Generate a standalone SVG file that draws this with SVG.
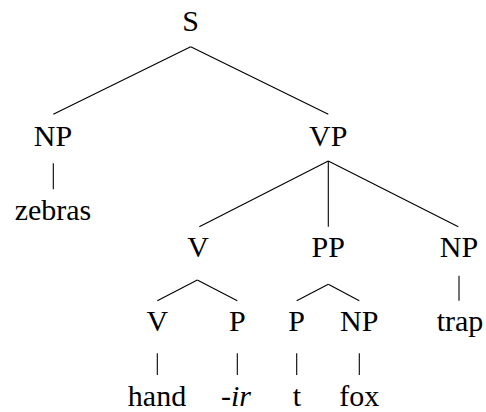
<svg xmlns="http://www.w3.org/2000/svg" width="486" height="412" viewBox="0 0 486 412">
<style>
.e line{stroke:#000;stroke-width:1.1}
.t{font-family:"Liberation Serif","Times New Roman",Tinos,"Nimbus Roman","Nimbus Roman No9 L",FreeSerif,"Noto Serif","DejaVu Serif",Times,serif;font-size:30px;fill:#000;text-anchor:middle}
</style>
<rect width="486" height="412" fill="#fff"/>
<g class="e" id="connectors">
<line x1="190.7" y1="46.7" x2="53.3" y2="114.3"/>
<line x1="190.7" y1="46.7" x2="328.3" y2="114.3"/>
<line x1="53.3" y1="163.3" x2="53.3" y2="189.3"/>
<line x1="328.3" y1="161" x2="199.3" y2="226.7"/>
<line x1="328.3" y1="161" x2="328.3" y2="226.7"/>
<line x1="328.3" y1="161" x2="458.3" y2="226.7"/>
<line x1="197.3" y1="280" x2="157.3" y2="300.7"/>
<line x1="197.3" y1="280" x2="237.3" y2="300.7"/>
<line x1="328.3" y1="284.3" x2="296.7" y2="300.7"/>
<line x1="328.3" y1="284.3" x2="359.3" y2="300.7"/>
<line x1="459" y1="275.7" x2="459" y2="300.7"/>
<line x1="157.3" y1="353.3" x2="157.3" y2="375"/>
<line x1="237.3" y1="353.3" x2="237.3" y2="375"/>
<line x1="296.7" y1="353.3" x2="296.7" y2="375"/>
<line x1="359.3" y1="353.3" x2="359.3" y2="375"/>
</g>
<g class="t">
<g id="S"><text x="190.5" y="31">S</text></g>
<g id="NP1"><text x="53" y="145.5">NP</text></g>
<g id="zebras"><text x="53" y="220">zebras</text></g>
<g id="VP"><text x="328.3" y="145.5">VP</text></g>
<g id="V1"><text x="198" y="257">V</text></g>
<g id="PP"><text x="328.3" y="257">PP</text></g>
<g id="NP2"><text x="459" y="257">NP</text></g>
<g id="trap"><text x="460" y="331">trap</text></g>
<g id="V2"><text x="157.3" y="331">V</text></g>
<g id="P1"><text x="237.3" y="331">P</text></g>
<g id="P2"><text x="296.7" y="331">P</text></g>
<g id="NP3"><text x="359.3" y="331">NP</text></g>
<g id="hand"><text x="157" y="406">hand</text></g>
<g id="ir"><text x="236" y="406">-<tspan font-style="italic">ir</tspan></text></g>
<g id="t"><text x="297" y="406">t</text></g>
<g id="fox"><text x="359.3" y="406">fox</text></g>
</g>
</svg>
